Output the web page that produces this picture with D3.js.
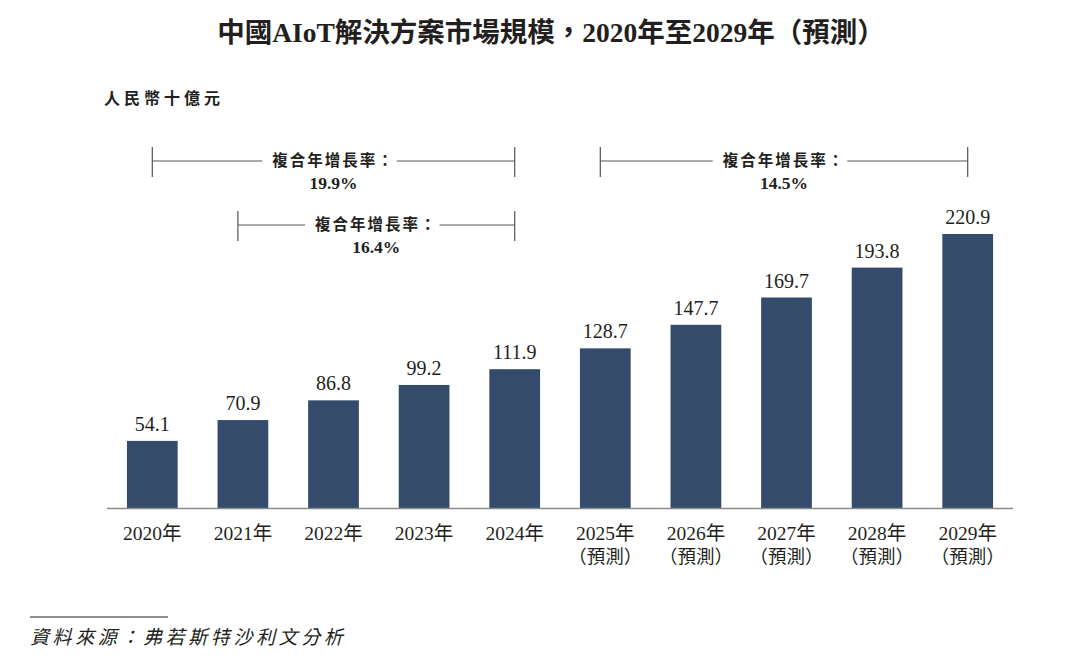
<!DOCTYPE html>
<html>
<head>
<meta charset="utf-8">
<script src="https://cdn.jsdelivr.net/npm/d3@7"></script>
<style>
  html, body { margin: 0; padding: 0; background: #fff; }
  svg { display: block; }
  .cjk { font-family: "Noto Sans CJK TC", "Noto Sans CJK SC", sans-serif; }
  .num { font-family: "Liberation Serif", "Noto Sans CJK TC", serif; }
</style>
</head>
<body>
<svg id="chart" width="1080" height="662"></svg>
<script>
// 中國AIoT解決方案市場規模 — 人民幣十億元
const years = ['2020', '2021', '2022', '2023', '2024', '2025', '2026', '2027', '2028', '2029'];
const values = [54.1, 70.9, 86.8, 99.2, 111.9, 128.7, 147.7, 169.7, 193.8, 220.9];
const forecast = [false, false, false, false, false, true, true, true, true, true];

// 複合年增長率：起點年、終點年、數值、括號層級
const cagrFrom = ['2020', '2021', '2025'];
const cagrTo = ['2024', '2024', '2029'];
const cagrVal = ['19.9%', '16.4%', '14.5%'];
const cagrRow = [0, 1, 0];

const INK = '#231f20', BAR = '#344b6c';
const baseY = 508;

const svg = d3.select('#chart');

const x = d3.scaleBand().domain(years).range([107, 1013]).paddingInner(0.44).paddingOuter(0.22);
const y = d3.scaleLinear().domain([0, 220.9]).range([baseY, 234]);

// 標題
svg.append('text')
  .attr('x', 551).attr('y', 42)
  .attr('text-anchor', 'middle')
  .attr('class', 'num')
  .attr('font-weight', 700).attr('font-size', 27.5).attr('fill', INK)
  .text('中國AIoT解決方案市場規模，2020年至2029年（預測）');

// 單位
svg.append('text')
  .attr('x', 104).attr('y', 104)
  .attr('class', 'cjk')
  .attr('font-weight', 700).attr('font-size', 16).attr('letter-spacing', 4).attr('fill', INK)
  .text('人民幣十億元');

// 柱
svg.append('g').selectAll('rect').data(years).join('rect')
  .attr('x', d => x(d))
  .attr('width', x.bandwidth())
  .attr('y', (d, i) => y(values[i]))
  .attr('height', (d, i) => baseY - y(values[i]))
  .attr('fill', BAR);

// 數值標籤
svg.append('g').selectAll('text').data(years).join('text')
  .attr('class', 'num')
  .attr('x', d => x(d) + x.bandwidth() / 2)
  .attr('y', (d, i) => y(values[i]) - 10)
  .attr('text-anchor', 'middle')
  .attr('font-size', 20).attr('fill', INK)
  .text((d, i) => values[i].toFixed(1));

// 基線
svg.append('line')
  .attr('x1', 107).attr('x2', 1013).attr('y1', baseY + 0.5).attr('y2', baseY + 0.5)
  .attr('stroke', '#8a8a8a').attr('stroke-width', 1.5);

// x 軸標籤
const lbl = svg.append('g').selectAll('g').data(years).join('g')
  .attr('transform', d => `translate(${x(d) + x.bandwidth() / 2},0)`);
lbl.append('text')
  .attr('class', 'num').attr('text-anchor', 'middle')
  .attr('y', 540).attr('font-size', 19.5).attr('fill', INK)
  .text(d => d + '年');
lbl.filter((d, i) => forecast[i]).append('text')
  .attr('class', 'num').attr('text-anchor', 'middle')
  .attr('y', 563).attr('font-size', 18.5).attr('fill', INK)
  .text('（預測）');

// 複合年增長率括號
const rowY = [161, 225];
cagrVal.forEach((v, i) => {
  const x1 = x(cagrFrom[i]) + x.bandwidth() / 2 - (i === 0 ? 0 : 5);
  const x2 = x(cagrTo[i]) + x.bandwidth() / 2;
  const ly = rowY[cagrRow[i]];
  const g = svg.append('g');
  const mid = (x1 + x2) / 2;
  const t = g.append('text')
    .attr('class', 'cjk').attr('x', mid).attr('y', ly + 5)
    .attr('text-anchor', 'middle')
    .attr('font-weight', 700).attr('font-size', 15.5).attr('letter-spacing', 2).attr('fill', INK)
    .text('複合年增長率：');
  const bb = t.node().getBBox();
  g.append('line').attr('x1', x1).attr('x2', bb.x - 10).attr('y1', ly).attr('y2', ly)
    .attr('stroke', '#555').attr('stroke-width', 1);
  g.append('line').attr('x1', bb.x + bb.width + 2).attr('x2', x2).attr('y1', ly).attr('y2', ly)
    .attr('stroke', '#555').attr('stroke-width', 1);
  [x1, x2].forEach(px => g.append('line')
    .attr('x1', px).attr('x2', px).attr('y1', ly - 14).attr('y2', ly + 16)
    .attr('stroke', '#555').attr('stroke-width', 1.2));
  g.append('text')
    .attr('class', 'num').attr('x', mid).attr('y', ly + 28)
    .attr('text-anchor', 'middle')
    .attr('font-weight', 700).attr('font-size', 17.5).attr('fill', INK)
    .text(v);
});

// 資料來源
svg.append('line').attr('x1', 30).attr('x2', 168).attr('y1', 617).attr('y2', 617)
  .attr('stroke', INK).attr('stroke-width', 1);
svg.append('text')
  .attr('x', 30).attr('y', 644)
  .attr('class', 'cjk')
  .attr('font-style', 'italic').attr('font-size', 19).attr('letter-spacing', 3.6).attr('fill', INK)
  .text('資料來源：弗若斯特沙利文分析');
</script>
</body>
</html>
